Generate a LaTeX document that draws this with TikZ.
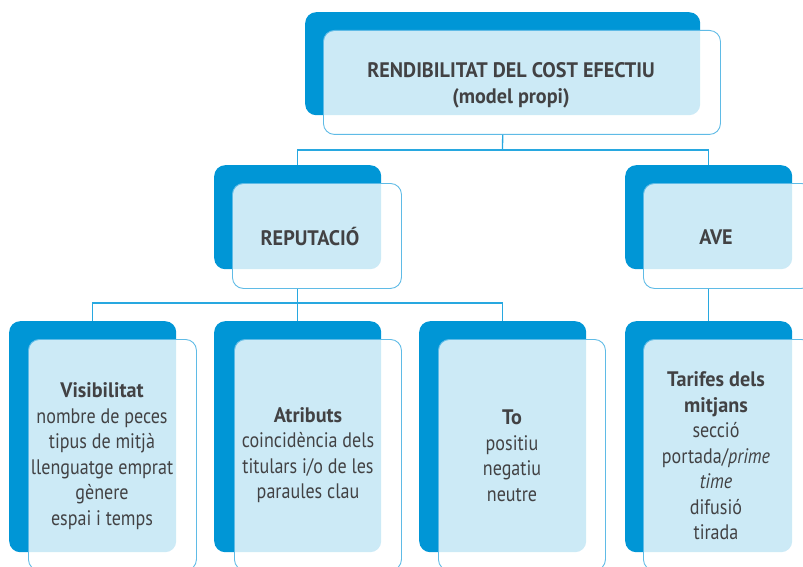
\documentclass[tikz,border=0pt]{standalone}
\usepackage{fontspec}
\setmainfont[FakeStretch=0.86, BoldFeatures={FakeStretch=0.96}]{PT Sans}
\usetikzlibrary{positioning}

\definecolor{boxblue}{RGB}{0,150,214}
\definecolor{edgeblue}{RGB}{95,187,230}
\definecolor{lineblue}{RGB}{40,168,224}
\definecolor{textgray}{RGB}{66,66,68}

\tikzset{
  backbox/.style={rectangle, rounded corners=11pt, fill=boxblue, anchor=north west, inner sep=0pt},
  frontbox/.style={rectangle, rounded corners=11pt, draw=edgeblue, line width=0.9pt,
    fill=white, fill opacity=0.8, anchor=north west, inner sep=0pt},
  boxtext/.style={text=textgray, align=center, font=\fontsize{21}{25.5}\selectfont},
  link/.style={draw=lineblue, line width=1.3pt}
}

\begin{document}
\begin{tikzpicture}[x=1pt, y=-1pt]
  \clip (0,0) rectangle (803,567);

  % top level
  \node[backbox, minimum width=395pt, minimum height=103pt] (cost-back) at (305,12) {};
  \node[frontbox, minimum width=397pt, minimum height=104pt] (cost) at (323,30) {};
  \node[boxtext, font=\fontsize{21}{26}\selectfont\bfseries] (cost-text) at (511,85)
    {RENDIBILITAT DEL COST EFECTIU\\(model propi)};

  % second level
  \node[backbox, minimum width=167pt, minimum height=104pt] (rep-back) at (214,165) {};
  \node[frontbox, minimum width=169pt, minimum height=105pt] (rep) at (232,183) {};
  \node[boxtext, font=\fontsize{21}{26}\selectfont\bfseries] (rep-text) at (310,237) {REPUTACIÓ};

  \node[backbox, minimum width=167pt, minimum height=104pt] (ave-back) at (625,165) {};
  \node[frontbox, minimum width=169pt, minimum height=105pt] (ave) at (643,183) {};
  \node[boxtext, font=\fontsize{21}{26}\selectfont\bfseries] (ave-text) at (716,237) {AVE};

  % third level
  \node[backbox, minimum width=167pt, minimum height=231pt] (vis-back) at (9,321) {};
  \node[frontbox, minimum width=168pt, minimum height=231pt] (vis) at (28,339) {};
  \node[boxtext] (vis-text) at (102,456)
    {\textbf{Visibilitat}\\nombre de peces\\tipus de mitjà\\llenguatge emprat\\gènere\\espai i temps};

  \node[backbox, minimum width=167pt, minimum height=231pt] (atr-back) at (214,321) {};
  \node[frontbox, minimum width=167pt, minimum height=231pt] (atr) at (234,339) {};
  \node[boxtext] (atr-text) at (308,455)
    {\textbf{Atributs}\\coincidència dels\\titulars i/o de les\\paraules clau};

  \node[backbox, minimum width=167pt, minimum height=231pt] (to-back) at (419,321) {};
  \node[frontbox, minimum width=167pt, minimum height=231pt] (to) at (438,339) {};
  \node[boxtext] (to-text) at (512,456) {\textbf{To}\\positiu\\negatiu\\neutre};

  \node[backbox, minimum width=167pt, minimum height=231pt] (tar-back) at (625,321) {};
  \node[frontbox, minimum width=169pt, minimum height=231pt] (tar) at (643,339) {};
  \node[boxtext] (tar-text) at (716,456)
    {\textbf{Tarifes dels}\\\textbf{mitjans}\\secció\\portada/\textit{prime}\\\textit{time}\\difusió\\tirada};

  % connectors
  \coordinate (split1) at (502.5,150);
  \coordinate (split2) at (297.5,303);
  \draw[link] (cost-back.south |- cost.south) -- (split1);
  \draw[link] (rep-back.north) |- (split1) -| (ave-back.north);
  \draw[link] (rep-back.south |- rep.south) -- (atr-back.north);
  \draw[link] (vis-back.north) |- (split2) -| (to-back.north);
  \draw[link] (ave-back.south |- ave.south) -- (tar-back.north);
\end{tikzpicture}
\end{document}
